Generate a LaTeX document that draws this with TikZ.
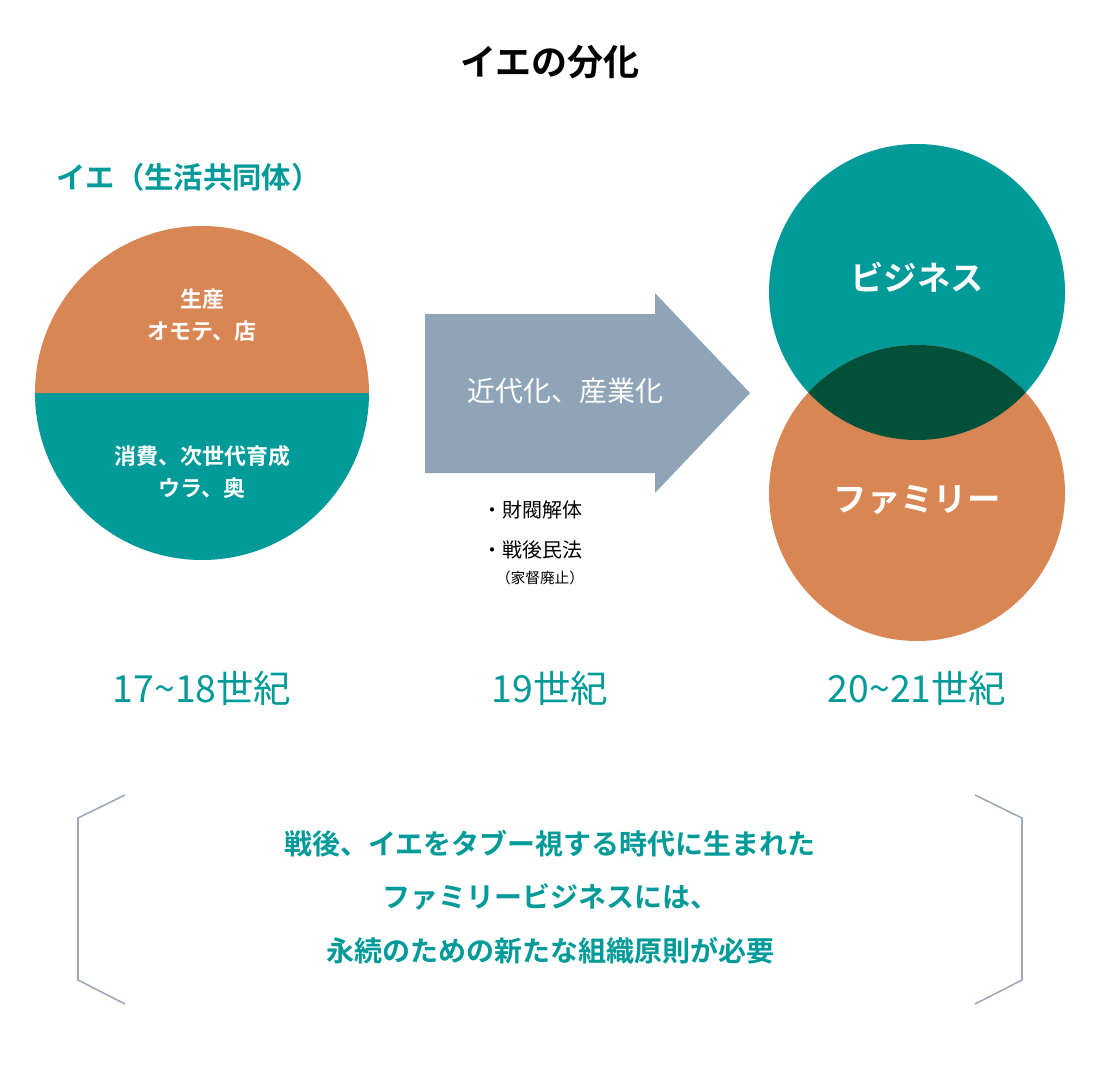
\documentclass[tikz,border=0pt]{standalone}
\usepackage{fontspec}
\setmainfont{Noto Sans CJK JP}
\newfontfamily\jpb{Noto Sans CJK JP Bold}
\definecolor{teal1}{HTML}{009A98}
\definecolor{orng}{HTML}{D98655}
\definecolor{dgrn}{HTML}{00503A}
\definecolor{arr}{HTML}{8FA4B6}
\definecolor{brk}{HTML}{9AAABB}
\begin{document}
\begin{tikzpicture}[x=0.75pt,y=-0.75pt,
  wl/.style={text=white,font=\jpb\fontsize{16.5}{24}\selectfont,align=center},
  cent/.style={text=teal1,font=\fontsize{28}{32}\selectfont},
  msg/.style={text=teal1,font=\jpb\fontsize{21}{40}\selectfont,align=center}]
\useasboundingbox (0,0) rectangle (1100,1070);
\node[font=\jpb\fontsize{27}{30}\selectfont] (title) at (550,62) {イエの分化};
\node[text=teal1,font=\jpb\fontsize{22}{26}\selectfont,anchor=west] (ie) at (52,177) {イエ（生活共同体）};
% left circle
\fill[teal1] (35,393) arc[start angle=180,end angle=0,radius=167] -- cycle;
\fill[orng] (35,393) arc[start angle=180,end angle=360,radius=167] -- cycle;
\node[wl] (p1) at (202,315) {生産\\オモテ、店};
\node[wl] (p2) at (202,472) {消費、次世代育成\\ウラ、奥};
% arrow
\fill[arr] (425,314) -- (655,314) -- (655,293) -- (750,393) -- (655,493) -- (655,473) -- (425,473) -- cycle;
\node[text=white,font=\fontsize{21}{24}\selectfont] (mod) at (565,391) {近代化、産業化};
\node[font=\fontsize{15}{18}\selectfont,anchor=west] (b1) at (478,510) {・財閥解体};
\node[font=\fontsize{15}{18}\selectfont,anchor=west] (b2) at (478,550) {・戦後民法};
\node[font=\fontsize{11}{14}\selectfont] (b3) at (540,578) {（家督廃止）};
% right circles
\fill[teal1] (917,292) circle[radius=148];
\fill[orng] (917,493) circle[radius=148];
\begin{scope}
\clip (917,292) circle[radius=148];
\fill[dgrn] (917,493) circle[radius=148];
\end{scope}
\node[wl,font=\jpb\fontsize{25}{28}\selectfont] (biz) at (917,277) {ビジネス};
\node[wl,font=\jpb\fontsize{25}{28}\selectfont] (fam) at (917,500) {ファミリー};
% centuries
\node[cent] (c1) at (202,688) {17\textasciitilde18世紀};
\node[cent] (c2) at (550,688) {19世紀};
\node[cent] (c3) at (917,688) {20\textasciitilde21世紀};
% brackets
\draw[brk,line width=1.2pt] (125,795) -- (78,818) -- (78,980) -- (125,1004);
\draw[brk,line width=1.2pt] (975,795) -- (1022,818) -- (1022,980) -- (975,1004);
\node[msg] (m) at (550,897) {戦後、イエをタブー視する時代に生まれた\\ファミリービジネスには、\\永続のための新たな組織原則が必要};
\end{tikzpicture}
\end{document}
